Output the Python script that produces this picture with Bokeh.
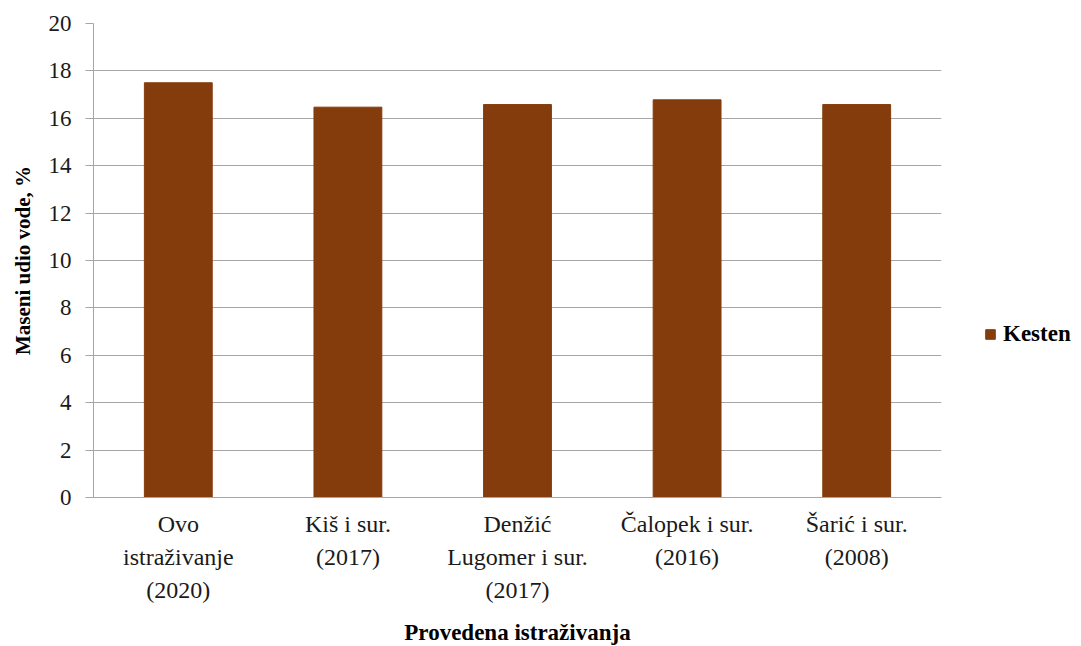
from bokeh.plotting import figure
from bokeh.models import Legend, LegendItem, ColumnDataSource, FixedTicker, FactorRange, Range1d
from bokeh.embed import file_html
from bokeh.resources import INLINE

categories = [
    "Ovo\nistraživanje\n(2020)",
    "Kiš i sur.\n(2017)",
    "Denžić\nLugomer i sur.\n(2017)",
    "Čalopek i sur.\n(2016)",
    "Šarić i sur.\n(2008)",
]
values = [17.5, 16.47, 16.58, 16.78, 16.58]
series_name = "Kesten"
y_ticks = [0, 2, 4, 6, 8, 10, 12, 14, 16, 18, 20]
y_label = "Maseni udio vode, %"
x_label = "Provedena istraživanja"

FONT = "Liberation Serif"
BAR = "#843C0C"
GRID = "#a6a6a6"

source = ColumnDataSource(dict(cat=categories, val=values))

p = figure(
    x_range=FactorRange(*categories),
    y_range=Range1d(0, 20),
    frame_width=848, frame_height=474,
    output_backend="svg", toolbar_location=None,
    min_border_left=93, min_border_right=10,
    min_border_top=23, min_border_bottom=143,
)
p.outline_line_color = None
p.background_fill_color = "white"
p.border_fill_color = "white"

r = p.vbar(x="cat", top="val", width=0.4, source=source,
           fill_color=BAR, line_color=BAR)

# axes
p.yaxis.ticker = FixedTicker(ticks=y_ticks)
p.yaxis.major_tick_out = 8
p.yaxis.major_tick_in = 0
p.yaxis.minor_tick_line_color = None
p.yaxis.axis_line_color = GRID
p.yaxis.major_tick_line_color = GRID
p.yaxis.major_label_text_font = FONT
p.yaxis.major_label_text_font_size = "23px"
p.yaxis.major_label_text_color = "#1a1a1a"
p.yaxis.major_label_standoff = 14
p.yaxis.axis_label = y_label
p.yaxis.axis_label_text_font = FONT
p.yaxis.axis_label_text_font_size = "21px"
p.yaxis.axis_label_text_font_style = "bold"
p.yaxis.axis_label_text_color = "black"
p.yaxis.axis_label_standoff = 11

p.xaxis.axis_line_color = GRID
p.xaxis.major_tick_line_color = None
p.xaxis.minor_tick_line_color = None
p.xaxis.major_label_text_font = FONT
p.xaxis.major_label_text_font_size = "24px"
p.xaxis.major_label_text_color = "#1a1a1a"
p.xaxis.major_label_text_line_height = 1.27
p.xaxis.major_label_standoff = 7
p.xaxis.axis_label = x_label
p.xaxis.axis_label_text_font = FONT
p.xaxis.axis_label_text_font_size = "23px"
p.xaxis.axis_label_text_font_style = "bold"
p.xaxis.axis_label_text_color = "black"
p.xaxis.axis_label_standoff = 14

p.xgrid.grid_line_color = None
p.ygrid.grid_line_color = GRID
p.ygrid.grid_line_width = 1

legend = Legend(
    items=[LegendItem(label=series_name, renderers=[r])],
    location=(43, 150),
    border_line_color=None,
    background_fill_alpha=0,
    padding=0, margin=0,
    glyph_width=12, glyph_height=12,
    label_standoff=7,
    label_text_font=FONT,
    label_text_font_size="23px",
    label_text_font_style="bold",
    label_text_color="black",
)
p.add_layout(legend, "right")

open("out.html", "w").write(file_html(p, INLINE))
